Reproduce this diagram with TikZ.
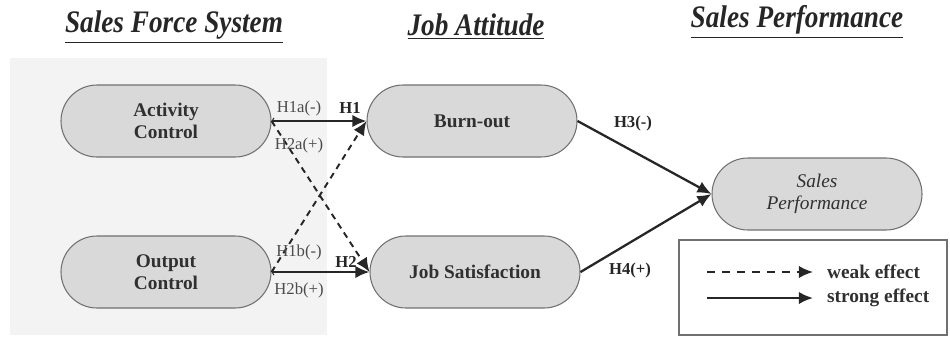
\documentclass[tikz,border=0pt]{standalone}
\usepackage{fontspec}
\setmainfont{Liberation Serif}
\usetikzlibrary{arrows.meta, positioning}
\definecolor{panelgray}{HTML}{F3F3F3}
\definecolor{boxgray}{HTML}{D9D9D9}
\definecolor{edgegray}{HTML}{707070}
\definecolor{inkgray}{HTML}{303030}

\begin{document}
\begin{tikzpicture}[
  construct/.style={draw=edgegray, fill=boxgray, line width=0.6pt, rounded corners=0.72cm,
    minimum width=4.2cm, minimum height=1.44cm, align=center, text=inkgray,
    font=\bfseries\fontsize{11}{12.5}\selectfont},
  heading/.style={text=black!85, yscale=1.15, font=\bfseries\itshape\fontsize{15.5}{17}\selectfont},
  hyp/.style={text=black!70, inner sep=1pt, font=\fontsize{9.5}{11}\selectfont},
  hypbold/.style={text=black!85, inner sep=1pt, font=\bfseries\fontsize{9.5}{11}\selectfont},
  legendtext/.style={text=inkgray, inner sep=1pt, anchor=west, font=\bfseries\fontsize{11}{12}\selectfont},
  strong/.style={line width=1.3pt, draw=black!85, -{Latex[length=8pt,width=7pt]}},
  weak/.style={line width=1.1pt, draw=black!85, dash pattern=on 3.5pt off 2.8pt, -{Latex[length=8pt,width=7pt]}},
  startbarb/.style={{Straight Barb[length=1pt,width=3.5pt,line width=0.6pt]}-{Latex[length=8pt,width=7pt]}},
]
  \useasboundingbox (0,0) rectangle (19,6.74);

  % Shaded panel behind the sales force system
  \fill[panelgray] (0.2,0.04) rectangle (6.54,5.58);

  % Column headings
  \node[heading] (hSystem) at (3.48,6.20) {\underline{Sales Force System}};
  \node[heading] (hAttitude) at (9.52,6.20) {\underline{Job Attitude}};
  \node[heading] (hPerformance) at (15.94,6.30) {\underline{Sales Performance}};

  % Constructs
  \node[construct] (activity) at (3.32,4.32) {Activity\\Control};
  \node[construct] (output) at (3.32,1.30) {Output\\Control};
  \node[construct] (burnout) at (9.44,4.32) {Burn-out};
  \node[construct] (satisfaction) at (9.50,1.30) {Job Satisfaction};
  \node[construct, font=\itshape\fontsize{11}{12.5}\selectfont] (performance) at (16.34,2.86) {Sales\\Performance};

  % Paths
  \draw[strong, startbarb] (activity.east) -- (burnout.west);
  \draw[strong, startbarb] (output.east) -- (satisfaction.west);
  \draw[weak] (activity.east) -- (satisfaction.west);
  \draw[weak] (output.east) -- (burnout.west);
  \draw[strong] (burnout.east) -- (performance.west);
  \draw[strong] (satisfaction.east) -- (performance.west);

  % Hypothesis labels
  \node[hyp] (h1a) at (5.98,4.58) {H1a(-)};
  \node[hypbold] (h1) at (7.00,4.58) {H1};
  \node[hyp] (h2a) at (5.98,3.84) {H2a(+)};
  \node[hyp] (h1b) at (5.98,1.70) {H1b(-)};
  \node[hypbold] (h2) at (6.92,1.50) {H2};
  \node[hyp] (h2b) at (5.98,0.94) {H2b(+)};
  \node[hypbold] (h3) at (12.66,4.28) {H3(-)};
  \node[hypbold] (h4) at (12.60,1.34) {H4(+)};

  % Legend
  \draw[edgegray, line width=0.6pt] (13.58,0.04) rectangle (18.94,1.94);
  \coordinate (weakStart) at (14.14,1.30);
  \coordinate (weakEnd) at (16.26,1.30);
  \coordinate (strongStart) at (14.14,0.78);
  \coordinate (strongEnd) at (16.26,0.78);
  \draw[weak, dash pattern=on 4.5pt off 4pt] (weakStart) -- (weakEnd);
  \draw[strong] (strongStart) -- (strongEnd);
  \node[legendtext] (weakText) at (16.50,1.30) {weak effect};
  \node[legendtext] (strongText) at (16.50,0.78) {strong effect};
\end{tikzpicture}
\end{document}
